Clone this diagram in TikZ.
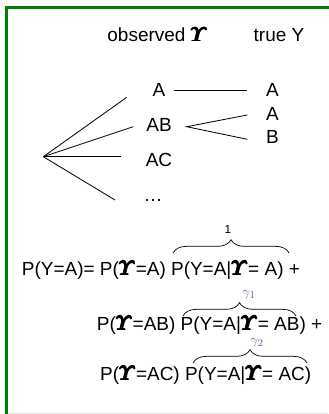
\documentclass[tikz,border=0pt]{standalone}
\usepackage{amsmath,amssymb}
\usepackage{fontspec}
\setmainfont{Liberation Sans}
\usepackage{xcolor}
\usetikzlibrary{positioning,calc,decorations.pathreplacing}

\definecolor{framegreen}{RGB}{0,128,0}
\definecolor{gammablue}{RGB}{80,100,150}
\newcommand{\obsY}{$\pmb{\boldsymbol{\varUpsilon}}$}

\begin{document}
\begin{tikzpicture}[
    x=0.03cm, y=-0.03cm,
    lbl/.style={font=\fontsize{16.2}{19}\selectfont, inner sep=0pt, anchor=base},
    eqn/.style={font=\fontsize{16.2}{19}\selectfont, inner sep=0pt, anchor=base west},
    gam/.style={font=\fontsize{13}{15}\selectfont, inner sep=0pt, anchor=base, text=gammablue},
    wire/.style={line width=0.7pt},
    overbrace/.style={decorate, decoration={brace, amplitude=0.4cm}, line width=0.6pt}
]
    \useasboundingbox (0,0) rectangle (328,414);

    % Frame
    \draw[framegreen, line width=0.09cm] (6.5,420) -- (6.5,7.5) -- (340,7.5);
    \draw[black!10, line width=0.03cm] (8,413) -- (328,413);

    % Column headers
    \node[lbl] (obshead) at (157.5,41.7) {observed \obsY};
    \node[lbl] (truehead) at (279,41.7) {true Y};

    % Observed sets
    \node[lbl] (obsA) at (159,96.7) {A};
    \node[lbl] (obsAB) at (159,131.7) {AB};
    \node[lbl] (obsAC) at (159,166.7) {AC};
    \node[lbl] (obsmore) at (153,201.7) {\dots};

    % True labels
    \node[lbl] (trueA) at (272.5,96.7) {A};
    \node[lbl] (trueA2) at (272.5,120) {A};
    \node[lbl] (trueB) at (272.5,143.3) {B};

    % Fan
    \coordinate (fan) at (43.3,156.7);
    \coordinate (tipA) at (126.7,97.3);
    \coordinate (tipAB) at (133.3,126.7);
    \coordinate (tipAC) at (120.7,156.7);
    \coordinate (tipmore) at (115,200);
    \foreach \t in {tipA,tipAB,tipAC,tipmore}
        \draw[wire] (fan) -- (\t);

    % Connections
    \draw[wire, shorten <=0.26cm, shorten >=0.58cm] (obsA.east |- 0,90.7) -- (trueA.west |- 0,90.7);
    \coordinate (abstart) at (186.7,126.7);
    \coordinate (abA) at (247.3,115);
    \coordinate (abB) at (247.3,139.3);
    \draw[wire] (abA) -- (abstart) -- (abB);

    % Formula
    \node[eqn] (eqone) at (21.7,275) {P(Y=A)= P(\obsY=A) P(Y=A|\obsY= A) +};
    \node[eqn] (eqtwo) at (96.7,330) {P(\obsY=AB) P(Y=A|\obsY= AB) +};
    \node[eqn] (eqthree) at (100,380) {P(\obsY=AC) P(Y=A|\obsY= AC)};

    % Braces
    \draw[overbrace] (173,253) -- (289,253);
    \draw[overbrace] (183,316) -- (296,316);
    \draw[overbrace] (193,363) -- (307,363);
    \node[lbl, font=\fontsize{10}{12}\selectfont] (one) at (228,233.3) {1};
    \node[gam] (gone) at (249,296.5) {$\gamma_1$};
    \node[gam] (gtwo) at (257,344.5) {$\gamma_2$};
\end{tikzpicture}
\end{document}
